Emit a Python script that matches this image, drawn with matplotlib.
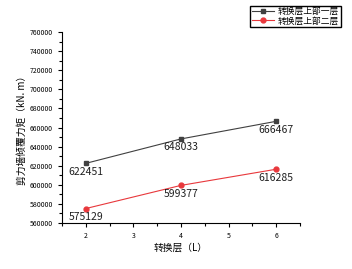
import matplotlib.pyplot as plt
from matplotlib.ticker import MultipleLocator

plt.rcParams['font.family'] = ['Noto Sans CJK SC', 'DejaVu Sans']

layers = [2, 4, 6]
floor1 = [622451, 648033, 666467]
floor2 = [575129, 599377, 616285]
names = ['转换层上部一层', '转换层上部二层']

fig = plt.figure(figsize=(3.52, 2.69), dpi=100)
ax = fig.add_axes([0.176, 0.171, 0.676, 0.71])

ax.plot(layers, floor1, color='#404040', marker='s', markersize=3.5, lw=0.8, label=names[0])
ax.plot(layers, floor2, color='#e8383c', marker='o', markersize=3.5, lw=0.8, label=names[1])

for x, y in zip(layers, floor1):
    ax.annotate(str(y), (x, y), xytext=(0, -2.5), textcoords='offset points',
                ha='center', va='top', fontsize=7.5, color='#202020')
for x, y in zip(layers, floor2):
    ax.annotate(str(y), (x, y), xytext=(0, -2.5), textcoords='offset points',
                ha='center', va='top', fontsize=7.5, color='#202020')

ax.set_xlim(1.5, 6.5)
ax.set_ylim(560000, 760000)
ax.xaxis.set_major_locator(MultipleLocator(1))
ax.xaxis.set_minor_locator(MultipleLocator(0.5))
ax.yaxis.set_major_locator(MultipleLocator(20000))
ax.yaxis.set_minor_locator(MultipleLocator(10000))
ax.tick_params(labelsize=5, direction='out', length=3, width=0.8)
ax.tick_params(which='minor', length=2, width=0.8)
for s in ['top', 'right']:
    ax.spines[s].set_visible(False)

ax.set_xlabel('转换层（L）', fontsize=7, labelpad=2)
ax.set_ylabel('剪力墙倾覆力矩（kN. m）', fontsize=7, labelpad=2)

fig.legend(loc='upper right', bbox_to_anchor=(0.98, 0.995), fontsize=6.3,
           frameon=True, fancybox=False, edgecolor='black', framealpha=1,
           borderpad=0.15, labelspacing=0.05, handlelength=2.5, handletextpad=0.5)

fig.savefig('out.png', dpi=100)
